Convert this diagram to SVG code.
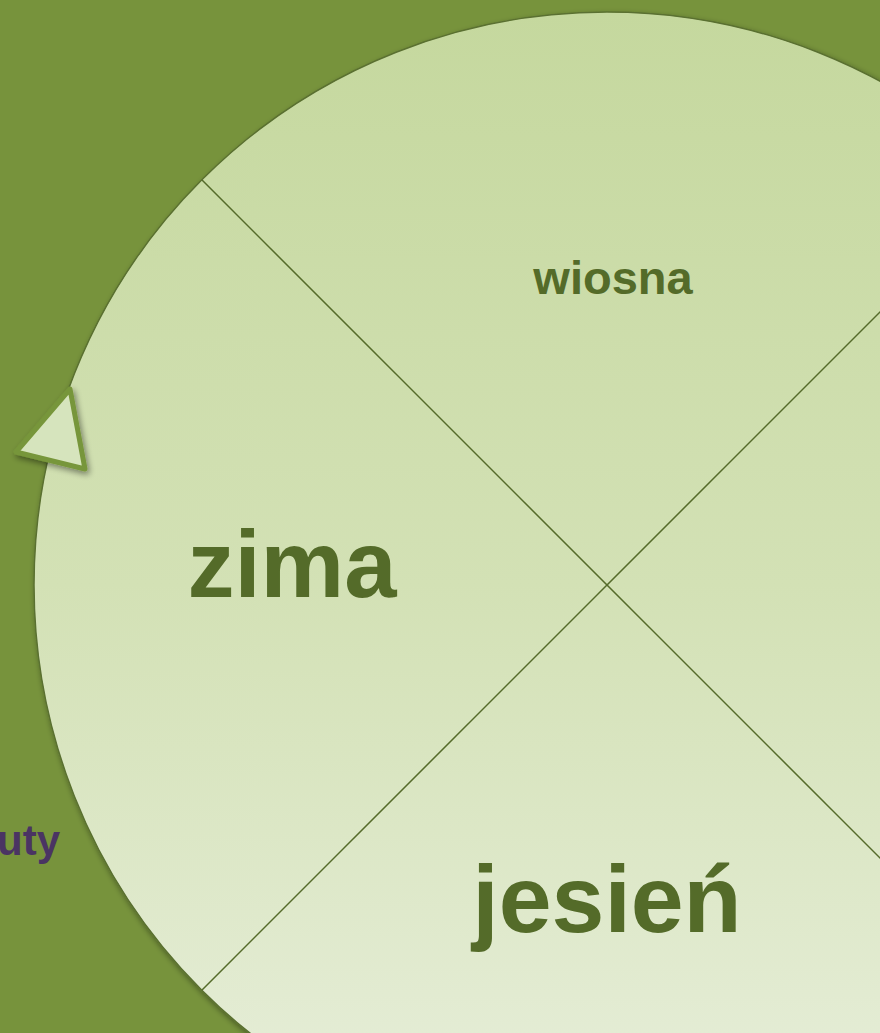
<svg xmlns="http://www.w3.org/2000/svg" width="880" height="1033" viewBox="0 0 880 1033">
  <defs>
    <linearGradient id="gFill" x1="0" y1="0" x2="0" y2="1">
      <stop offset="0" stop-color="#c5d89e"/>
      <stop offset="0.5" stop-color="#d3e1b5"/>
      <stop offset="1" stop-color="#e8efdc"/>
    </linearGradient>
    <filter id="shadow" x="-20%" y="-20%" width="140%" height="140%">
      <feGaussianBlur in="SourceAlpha" stdDeviation="3"/>
      <feOffset dx="2" dy="3" result="b"/>
      <feComponentTransfer><feFuncA type="linear" slope="0.45"/></feComponentTransfer>
      <feMerge><feMergeNode/><feMergeNode in="SourceGraphic"/></feMerge>
    </filter>
  </defs>
  <style>
    .lbl { font-family: "Liberation Sans", Arial, sans-serif; font-weight: bold; fill: #546b29; text-anchor: middle; }
    .div { stroke: #556b2a; stroke-width: 1.5; fill: none; }
  </style>
  <rect x="0" y="0" width="880" height="1033" fill="#77933c"/>
  <g id="circle" filter="url(#shadow)">
    <circle cx="607" cy="585" r="573" fill="url(#gFill)" stroke="#5a7030" stroke-width="1.5"/>
  </g>
  <g id="connectors">
    <line class="div" x1="201.8" y1="179.8" x2="1012.2" y2="990.2"/>
    <line class="div" x1="201.8" y1="990.2" x2="1012.2" y2="179.8"/>
  </g>
  <g id="arrow" filter="url(#shadow)">
    <polygon points="70,389 16,452 85,469" fill="#d6e4bd" stroke="#77963a" stroke-width="5" stroke-linejoin="round"/>
  </g>
  <g id="wiosna"><text class="lbl" x="613" y="294" font-size="47">wiosna</text></g>
  <g id="zima"><text class="lbl" x="292" y="597" font-size="94">zima</text></g>
  <g id="jesien"><text class="lbl" x="607" y="932" font-size="95">jesień</text></g>
  <g id="minuty"><text x="60" y="855" font-family="Liberation Sans, Arial, sans-serif" font-weight="bold" font-size="42" fill="#4a3463" text-anchor="end">uty</text></g>
</svg>
